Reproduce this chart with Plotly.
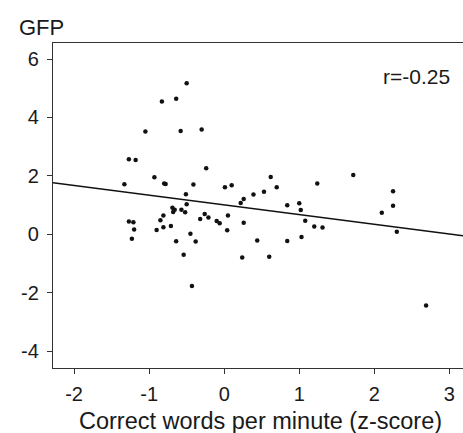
import plotly.graph_objects as go

# ---- data ----
cwpm_z = [-0.50, -0.83, -0.64, -1.05, -0.58, -0.30, -1.27, -1.18, -0.24, -0.93,
          -1.33, -0.80, -0.78, -0.41, 0.01, 0.10, -0.51, 0.26, 0.39, 0.22,
          -0.50, -0.69, -0.66, -0.68, -0.57, -0.52, -0.81, -0.85, -1.27, -1.21,
          -1.20, -1.23, -0.90, -0.81, -0.71, -0.64, -0.45, -0.38, -0.32, -0.26,
          -0.21, -0.10, -0.06, 0.05, 0.04, 0.26, 0.44, -0.54, 0.24, -0.43,
          0.62, 0.70, 0.53, 0.60, 0.84, 0.84, 1.00, 1.02, 1.08, 1.20,
          1.31, 1.03, 1.24, 1.72, 2.10, 2.25, 2.25, 2.30, 2.69]
gfp = [5.17, 4.55, 4.64, 3.52, 3.54, 3.59, 2.57, 2.54, 2.26, 1.95,
       1.71, 1.74, 1.72, 1.70, 1.61, 1.68, 1.37, 1.21, 1.36, 1.07,
       1.03, 0.91, 0.84, 0.76, 0.84, 0.75, 0.64, 0.48, 0.44, 0.41,
       0.16, -0.15, 0.15, 0.24, 0.28, -0.24, 0.02, -0.25, 0.52, 0.69,
       0.57, 0.45, 0.38, 0.64, 0.14, 0.39, -0.21, -0.70, -0.80, -1.77,
       1.96, 1.61, 1.46, -0.77, -0.23, 0.99, 1.06, 0.83, 0.46, 0.27,
       0.23, -0.09, 1.74, 2.03, 0.74, 1.47, 0.98, 0.09, -2.44]

fit_slope = -0.333
fit_intercept = 1.005
r_label = "r=-0.25"

x_ticks = [-2, -1, 0, 1, 2, 3]
y_ticks = [-4, -2, 0, 2, 4, 6]
x_range = [-2.281, 3.182]
y_range = [-4.58, 6.55]

x_title = "Correct words per minute (z-score)"
y_title = "GFP"

# ---- figure ----
W, H = 463, 433
L, R, T, B = 53, 0, 43, 65
pw, ph = W - L - R, H - T - B


def px_to_paper(px, py):
    return (px - L) / pw, (H - B - py) / ph


fit_x = x_range
fit_y = [fit_intercept + fit_slope * v for v in fit_x]

fig = go.Figure()
fig.add_trace(go.Scatter(x=fit_x, y=fit_y, mode="lines",
                         line=dict(color="#111111", width=1.5),
                         hoverinfo="skip", showlegend=False))
fig.add_trace(go.Scatter(x=cwpm_z, y=gfp, mode="markers",
                         marker=dict(color="#111111", size=4.5),
                         showlegend=False))

font_family = "Liberation Sans, Arial, sans-serif"
axis_col = "#333333"
txt_col = "#1a1a1a"

fig.update_xaxes(range=x_range, tickvals=x_ticks, ticktext=[str(v) for v in x_ticks],
                 showgrid=False, zeroline=False, showline=True, linecolor=axis_col,
                 linewidth=1.2, mirror=True, ticks="outside", ticklen=5,
                 tickcolor=axis_col, tickwidth=1.2, ticklabelstandoff=3,
                 tickfont=dict(size=20, color=txt_col, family=font_family))
fig.update_yaxes(range=y_range, tickvals=y_ticks, ticktext=[str(v) for v in y_ticks],
                 showgrid=False, zeroline=False, showline=True, linecolor=axis_col,
                 linewidth=1.2, ticks="outside", ticklen=5,
                 tickcolor=axis_col, tickwidth=1.2, ticklabelstandoff=4,
                 tickfont=dict(size=20, color=txt_col, family=font_family))

ax, ay = px_to_paper(17, 27)
bx, by = px_to_paper(260, 421)
cx, cy = px_to_paper(452, 76)
fig.add_annotation(text=y_title, xref="paper", yref="paper", x=ax, y=ay,
                   xanchor="left", yanchor="middle", showarrow=False,
                   font=dict(size=22, color=txt_col, family=font_family))
fig.add_annotation(text=x_title, xref="paper", yref="paper", x=bx, y=by,
                   xanchor="center", yanchor="middle", showarrow=False,
                   font=dict(size=23.5, color=txt_col, family=font_family))
fig.add_annotation(text=r_label, xref="paper", yref="paper", x=cx, y=cy,
                   xanchor="right", yanchor="middle", showarrow=False,
                   font=dict(size=21, color=txt_col, family=font_family))

fig.update_layout(width=W, height=H, margin=dict(l=L, r=R, t=T, b=B, pad=0),
                  plot_bgcolor="white", paper_bgcolor="white")

fig.write_html("out.html")
